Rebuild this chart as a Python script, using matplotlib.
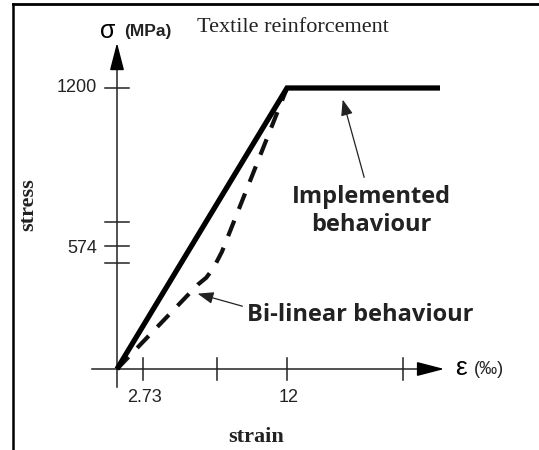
import matplotlib.pyplot as plt
from matplotlib.lines import Line2D

# constitutive laws of the textile (strain in per mille, stress in MPa)
implemented_strain = [0, 12, 22.8]
implemented_stress = [0, 1200, 1200]

bilinear_strain = [0, 5.7, 6.3, 6.8, 7.4, 12]
bilinear_stress = [0, 360, 390, 430, 500, 1200]

# schematic ticks (positions on the sketch, not to scale)
xtick_pos = [1.84, 7.06, 12, 20.2]
xtick_lab = ['2.73', '', '12', '']
ytick_pos = [1200, 628, 525, 453]
ytick_lab = ['1200', '', '574', '']

W, H = 539, 450
fig = plt.figure(figsize=(W / 100, H / 100), dpi=100)
ax = fig.add_axes([0, 0, 1, 1])
# 1 unit of strain ~ 14.17 px, 1 MPa ~ 0.234 px, origin at (117, 369) px
sx, sy = 14.1667, 0.234167
ax.set_xlim(-117 / sx, (W - 117) / sx)
ax.set_ylim(-(H - 369) / sy, 369 / sy)
ax.axis('off')

# frame (top and left only)
fig.add_artist(Line2D([13 / W, 1], [1 - 4 / H, 1 - 4 / H], color='black', lw=2))
fig.add_artist(Line2D([13 / W, 13 / W], [0, 1 - 4 / H], color='black', lw=1.8))

# axes with arrows
ax.plot([0, 0], [-77, 1320], color='#222222', lw=1.1)
ax.plot([-1.76, 21.8], [0, 0], color='#222222', lw=1.1)
head = '-|>,head_length=0.85,head_width=0.22'
ax.annotate('', xy=(0, 1405), xytext=(0, 1290),
            arrowprops=dict(arrowstyle=head, color='black', lw=1.1, mutation_scale=20))
ax.annotate('', xy=(23.3, 0), xytext=(21.5, 0),
            arrowprops=dict(arrowstyle=head, color='black', lw=1.1, mutation_scale=20))

for x in xtick_pos:
    ax.plot([x, x], [-47, 47], color='#222222', lw=1.1)
for y in ytick_pos:
    ax.plot([-0.85, 0.85], [y, y], color='#222222', lw=1.1)

sans = 'Liberation Sans'
serif = 'Liberation Serif'
for x, lab in zip(xtick_pos, xtick_lab):
    if lab:
        ax.text(x + 0.1, -120, lab, ha='center', va='center', family=sans, fontsize=13, color='#222222')
for y, lab in zip(ytick_pos, ytick_lab):
    if lab:
        ax.text(-1.4, y - 10 if lab == '574' else y, lab, ha='right', va='center',
                family=sans, fontsize=13, color='#222222')

# curves
ax.plot(bilinear_strain, bilinear_stress, color='#111111', lw=3.0, ls=(0, (4, 3)))
ax.plot(implemented_strain, implemented_stress, color='black', lw=3.8,
        solid_joinstyle='miter', solid_capstyle='butt')

# labels
ax.text(-0.1, 1443, 'σ', ha='right', va='center', family=sans, fontsize=18)
ax.text(0.5, 1440, '(MPa)', ha='left', va='center', family=sans, fontsize=12.5, weight='bold', color='#222222')
ax.text(5.65, 1458, 'Textile reinforcement', ha='left', va='center', family=serif, fontsize=16, color='#222222')
ax.text(23.9, 6, 'ε', ha='left', va='center', family=sans, fontsize=19)
ax.text(25.2, 0, '(‰)', ha='left', va='center', family=sans, fontsize=13, color='#222222')
ax.text(9.81, -290, 'strain', ha='center', va='center', family=serif, fontsize=16, weight='bold', color='#222222')
ax.text(-6.28, 700, 'stress', ha='center', va='center', family=serif, fontsize=16, weight='bold',
        rotation=90, color='#222222')

ax.text(17.93, 675, 'Implemented\nbehaviour', ha='center', va='center', family='Open Sans',
        fontsize=17, weight='bold', linespacing=1.2, color='#222222')
ax.annotate('', xy=(15.88, 1162), xytext=(17.5, 807),
            arrowprops=dict(arrowstyle='-|>,head_length=0.8,head_width=0.3',
                            color='#222222', lw=0.9, mutation_scale=12))

ax.text(9.18, 231, 'Bi-linear behaviour', ha='left', va='center', family='Open Sans',
        fontsize=17, weight='bold', color='#222222')
ax.annotate('', xy=(5.5, 325), xytext=(9.04, 265),
            arrowprops=dict(arrowstyle='-|>,head_length=0.8,head_width=0.3',
                            color='#222222', lw=0.9, mutation_scale=12))

fig.savefig('out.png', dpi=100, facecolor='white')
